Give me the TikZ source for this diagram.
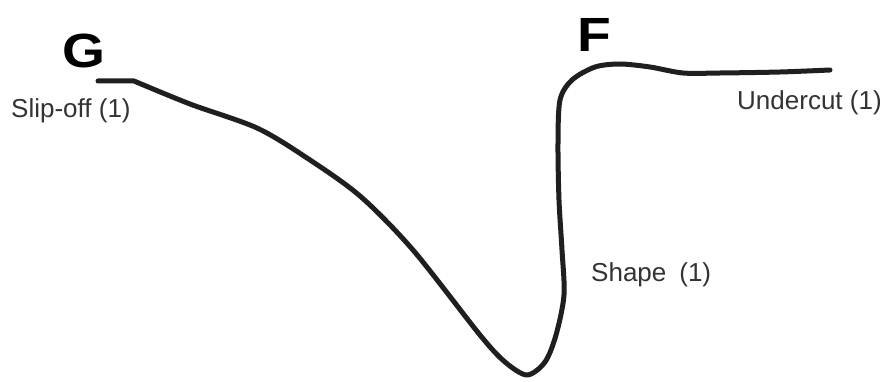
\documentclass[tikz,border=0pt]{standalone}
\usepackage{fontspec}
\setmainfont{Liberation Sans}
\begin{document}
\begin{tikzpicture}[x=1pt,y=-1pt,
  curve/.style={line width=5pt,line cap=round,line join=round,black!88},
  letter/.style={font=\fontsize{48}{48}\selectfont\bfseries,inner sep=0pt,anchor=base west,xscale=1.15},
  lbl/.style={font=\fontsize{26}{26}\selectfont,text=black!80,inner sep=0pt,anchor=base west}]
\useasboundingbox[fill=white] (0,0) rectangle (887,382);
\draw[curve] (98,81) -- (134,81)
  plot[smooth,tension=0.5] coordinates {(134,81) (190,104) (257,128) (307,158) (360,196) (413,250) (480,335) (505,362) (527,375) (545,362) (556,335) (564,295) (562,250) (559,200) (558,143) (560,100) (572,80) (595,67) (620,64) (650,67) (683,73) (720,73) (780,72) (830,70)};
\node[letter] (G) at (62,68) {G};
\node[letter] (F) at (577,52) {F};
\node[lbl] (slip) at (11,118) {Slip-off (1)};
\node[lbl] (under) at (737,110) {Undercut (1)};
\node[lbl] (shape) at (591,282) {Shape\hspace{0.5em}(1)};
\end{tikzpicture}
\end{document}
